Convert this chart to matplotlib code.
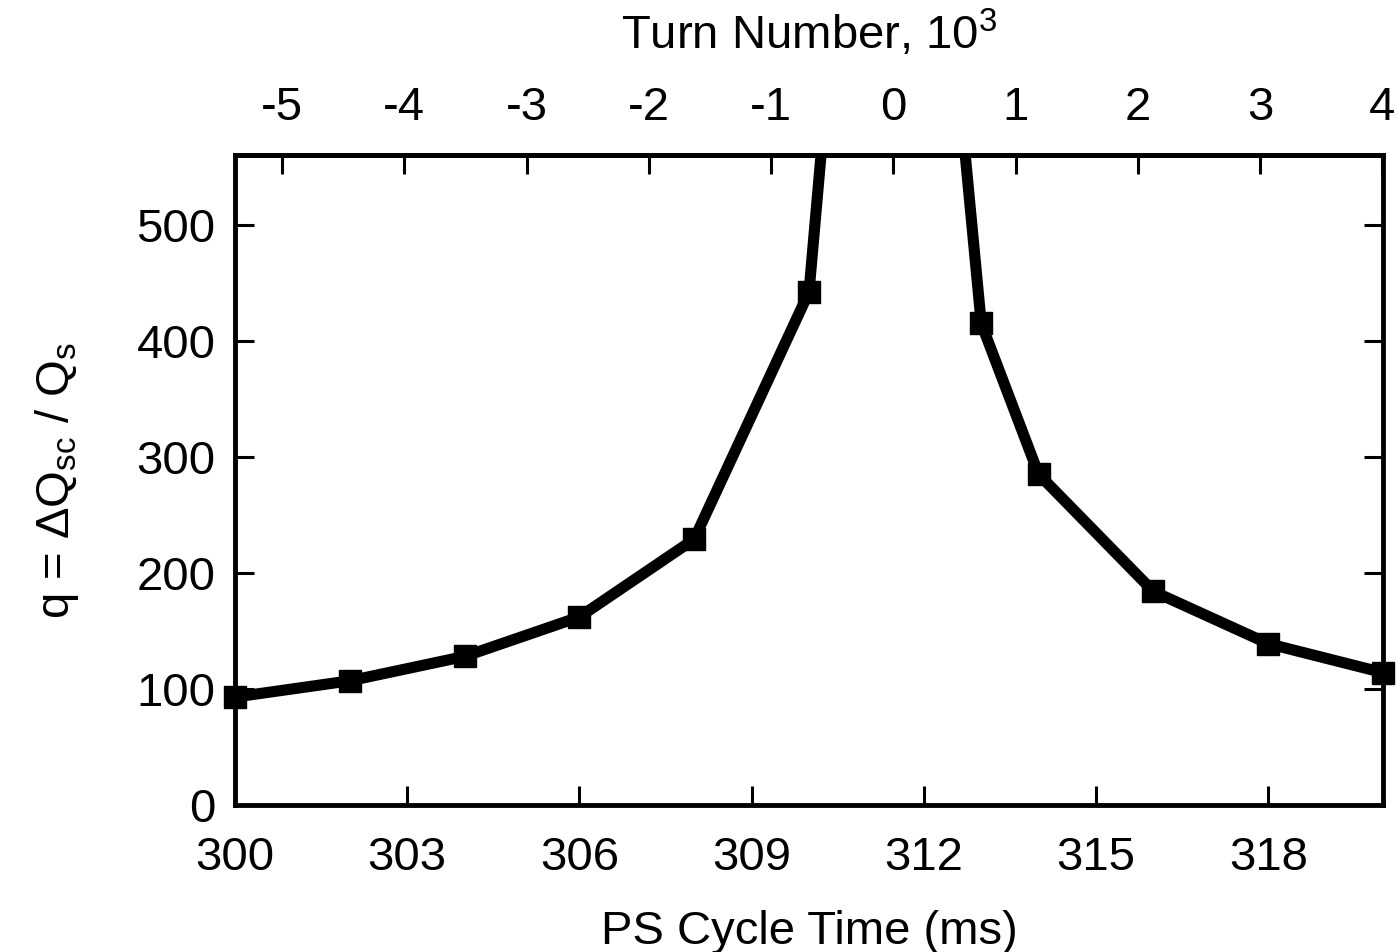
import numpy as np
import matplotlib
matplotlib.use("Agg")
import matplotlib.pyplot as plt

# PS cycle time (ms) and q = dQsc/Qs
t_ms = [300, 302, 304, 306, 308, 310, 311, 312, 313, 314, 316, 318, 320]
q = [93, 107, 128, 162, 229, 442, 1006, 936, 415, 285, 184, 139, 114]

# turn number axis: zero at transition, one turn ~ 2.13 us
t_zero = 311.47
ms_per_kturn = 2.13

xticks = [300, 303, 306, 309, 312, 315, 318]
yticks = [0, 100, 200, 300, 400, 500]
turn_ticks = [-5, -4, -3, -2, -1, 0, 1, 2, 3, 4]

plt.rcParams['font.family'] = ['Liberation Sans', 'DejaVu Sans']
plt.rcParams['mathtext.fontset'] = 'custom'
plt.rcParams['mathtext.rm'] = 'Liberation Sans'
plt.rcParams['mathtext.it'] = 'Liberation Sans'
fs = 34

fig = plt.figure(figsize=(13.97, 9.52), dpi=100)
ax = fig.add_axes([0.1682, 0.1544, 0.8218, 0.6828])

ax.plot(t_ms, q, 'k-', linewidth=8)
# markers drawn unclipped so the end points sit over the frame
vis = [i for i in range(len(q)) if q[i] <= 560]
ax.plot([t_ms[i] for i in vis], [q[i] for i in vis], 'ks', markersize=16,
        linestyle='none', clip_on=False)

ax.set_xlim(300, 320)
ax.set_ylim(0, 560)
ax.set_xticks(xticks)
ax.set_yticks(yticks)
ax.tick_params(direction='in', length=14, width=2.2, labelsize=fs, right=True)
ax.tick_params(axis='x', pad=22)
ax.tick_params(axis='y', pad=14)
for s in ax.spines.values():
    s.set_linewidth(3.5)

ax.set_xlabel('PS Cycle Time (ms)', fontsize=fs, labelpad=22)
ax.set_ylabel(r'q = $\Delta$Q$_{\rm sc}$ / Q$_{\rm s}$', fontsize=fs, labelpad=40)

def t2n(t):
    return (np.asarray(t) - t_zero) / ms_per_kturn

def n2t(n):
    return np.asarray(n) * ms_per_kturn + t_zero

sec = ax.secondary_xaxis('top', functions=(t2n, n2t))
sec.set_xticks(turn_ticks)
sec.set_xticklabels([str(n) for n in turn_ticks])
sec.tick_params(direction='in', length=14, width=2.2, labelsize=fs, pad=18)
sec.spines['top'].set_linewidth(3.5)
sec.set_xlabel(r'Turn Number, 10$^3$', fontsize=fs, labelpad=26)

fig.savefig('out.png', dpi=100)
